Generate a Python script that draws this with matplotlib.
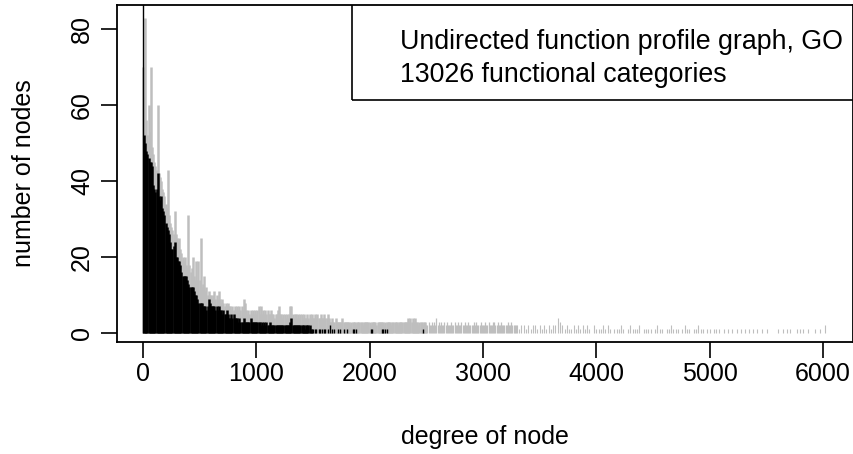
import numpy as np
import matplotlib
matplotlib.use("Agg")
import matplotlib.pyplot as plt
from matplotlib.patches import Rectangle

plt.rcParams['font.family'] = ['Liberation Sans', 'DejaVu Sans']

# degree step used for the dense parts
step = 10

# black series: number of nodes for degrees 0, 10, 20, ... 1480
black_dense = [
    120, 52, 50, 48, 47, 46, 45, 45, 44, 39,
    38, 37, 38, 42, 36, 35, 36, 33, 32, 31,
    29, 28, 27, 26, 24, 22, 22, 23, 24, 20,
    20, 19, 19, 18, 16, 15, 15, 15, 15, 14,
    13, 12, 12, 12, 12, 11, 10, 10, 9, 8,
    8, 8, 8, 7, 7, 7, 6, 7, 9, 8,
    7, 7, 7, 7, 6, 7, 6, 7, 6, 6,
    5, 6, 5, 5, 6, 5, 4, 4, 5, 4,
    5, 4, 4, 4, 3, 4, 3, 3, 3, 4,
    3, 3, 3, 3, 3, 4, 3, 3, 3, 3,
    3, 3, 3, 3, 2, 3, 2, 3, 2, 3,
    2, 2, 3, 2, 2, 2, 2, 2, 2, 2,
    2, 2, 2, 2, 2, 2, 2, 2, 2, 2,
    3, 4, 2, 2, 2, 2, 2, 2, 2, 2,
    2, 2, 2, 1, 2, 2, 2, 2, 1,
]
black_tail_deg = [1490, 1500, 1520, 1530, 1550, 1560, 1580, 1600, 1610, 1630,
                  1650, 1670, 1690, 1720, 1740, 1770, 1800, 1850, 1860, 1880,
                  2010, 2020, 2110, 2120, 2140, 2150, 2470]
black_tail_val = [1, 1, 1, 1, 1, 1, 1, 1, 1, 1,
                  2, 1, 1, 1, 1, 1, 1, 1, 1, 1,
                  1, 1, 1, 1, 1, 1, 1]

# grey series: degrees 0, 10, ... 3290
grey_dense = [
    70, 62, 83, 56, 52, 60, 53, 70, 49, 47,
    45, 44, 43, 60, 42, 41, 40, 38, 37, 36,
    34, 33, 43, 31, 29, 28, 27, 26, 32, 26,
    25, 24, 25, 22, 21, 20, 19, 20, 18, 17,
    31, 18, 16, 17, 20, 15, 14, 19, 14, 19,
    14, 25, 12, 13, 15, 11, 12, 10, 11, 10,
    10, 9, 10, 11, 9, 10, 9, 11, 9, 8,
    9, 8, 7, 8, 7, 8, 7, 7, 6, 7,
    6, 7, 6, 7, 6, 7, 6, 7, 6, 9,
    8, 6, 5, 6, 5, 6, 5, 6, 5, 6,
    5, 6, 7, 5, 7, 5, 6, 5, 6, 5,
    6, 5, 5, 6, 5, 5, 4, 5, 5, 6,
    7, 5, 5, 4, 5, 5, 4, 5, 4, 5,
    7, 7, 5, 4, 5, 5, 4, 5, 4, 5,
    5, 4, 5, 4, 4, 5, 4, 5, 4, 5,
    4, 4, 5, 4, 5, 4, 4, 5, 4, 4,
    5, 4, 4, 5, 4, 3, 3, 4, 3, 3,
    4, 3, 3, 3, 3, 3, 4, 3, 3, 3,
    3, 3, 3, 2, 3, 3, 3, 3, 2, 3,
    3, 3, 3, 3, 2, 3, 3, 3, 3, 3,
    3, 2, 3, 3, 3, 3, 2, 3, 3, 3,
    3, 3, 3, 2, 3, 3, 3, 3, 3, 2,
    3, 3, 3, 3, 3, 2, 3, 3, 3, 3,
    3, 3, 3, 3, 4, 3, 4, 3, 4, 3,
    4, 3, 3, 2, 3, 3, 3, 2, 3, 3,
    2, 2, 3, 2, 2, 3, 2, 3, 2, 4,
    2, 3, 2, 3, 2, 2, 3, 2, 3, 2,
    2, 2, 3, 2, 2, 3, 2, 2, 3, 2,
    2, 3, 2, 2, 3, 2, 2, 3, 2, 2,
    2, 2, 3, 2, 3, 2, 2, 2, 3, 2,
    2, 2, 3, 2, 2, 3, 2, 2, 2, 3,
    3, 2, 2, 3, 2, 2, 3, 2, 2, 2,
    2, 2, 3, 2, 2, 3, 2, 2, 2, 2,
]
# grey series, sparser part: degrees 3300, 3320, ... 5080 (0 = no node)
grey_sparse_start = 3300
grey_sparse_step = 20
grey_sparse = [
    2, 1, 2, 2, 1, 2, 1, 2, 2, 1,
    2, 1, 2, 1, 2, 1, 2, 2, 4, 3,
    2, 1, 2, 1, 1, 2, 1, 2, 1, 2,
    1, 2, 1, 0, 2, 1, 1, 1, 2, 1,
    2, 1, 0, 1, 1, 1, 2, 1, 0, 1,
    2, 1, 1, 1, 2, 0, 1, 1, 1, 1,
    0, 1, 2, 1, 1, 0, 1, 1, 2, 1,
    1, 1, 0, 1, 2, 1, 1, 0, 1, 1,
    2, 1, 1, 0, 1, 1, 0, 1, 1, 1,
]
grey_tail_deg = [5130, 5165, 5200, 5238, 5280, 5312, 5350, 5385, 5420, 5459,
                 5503, 5606, 5650, 5680, 5709, 5768, 5800, 5826, 5871, 5929,
                 5974, 6018]
grey_tail_val = [1, 1, 1, 1, 1, 1, 1, 1, 1, 1,
                 1, 1, 1, 1, 1, 1, 1, 1, 1, 1,
                 1, 2]

legend_lines = ["Undirected function profile graph, GO",
                "13026 functional categories"]

grey_col = "#bebebe"

fig = plt.figure(figsize=(8.54, 4.54), dpi=100)
ax = fig.add_axes([117 / 854, 1 - 342 / 454, 736 / 854, 337 / 454])

# grey first, black drawn over it
gd_x = np.arange(len(grey_dense)) * step
gd_lw = np.where(gd_x < 2500, 1.8, 0.9)
ax.vlines(gd_x, 0, grey_dense, colors=grey_col, linewidths=gd_lw)
gs_val = np.array(grey_sparse)
gs_x = grey_sparse_start + np.arange(len(gs_val)) * grey_sparse_step
keep = gs_val > 0
ax.vlines(gs_x[keep], 0, gs_val[keep], colors=grey_col, linewidth=0.8)
ax.vlines(grey_tail_deg, 0, grey_tail_val, colors=grey_col, linewidth=0.8)

bd_x = np.arange(len(black_dense)) * step
bd_lw = np.where(bd_x == 0, 1.0, 1.8)
ax.vlines(bd_x, 0, black_dense, colors="black", linewidths=bd_lw)
ax.vlines(black_tail_deg, 0, black_tail_val, colors="black", linewidth=1.0)

ax.set_xlim(-229, 6265)
ax.set_ylim(-2.37, 86.3)
ax.set_xticks(range(0, 6001, 1000))
ax.set_yticks(range(0, 81, 20))

for s in ax.spines.values():
    s.set_linewidth(1.3)
ax.tick_params(direction="out", length=11.5, width=1.2, labelsize=18, pad=3)
ax.tick_params(axis="y", pad=5)
for lab in ax.get_yticklabels():
    lab.set_rotation(90)
    lab.set_va("center")

ax.set_xlabel("degree of node", fontsize=18)
ax.set_ylabel("number of nodes", fontsize=18)
ax.xaxis.set_label_coords(0.5, -0.282)
ax.yaxis.set_label_coords(-0.126, 0.5)
ax.xaxis.label.set_va("center")
ax.yaxis.label.set_va("center")

# legend box (text only)
ax.add_patch(Rectangle((0.319, 0.718), 0.70, 0.30, transform=ax.transAxes,
                       fill=False, edgecolor="black", linewidth=1.2,
                       clip_on=True))
ax.text(0.3845, 0.890, legend_lines[0], transform=ax.transAxes,
        fontsize=19.3, va="center", ha="left")
ax.text(0.3845, 0.792, legend_lines[1], transform=ax.transAxes,
        fontsize=19.3, va="center", ha="left")

fig.savefig("out.png", dpi=100)
